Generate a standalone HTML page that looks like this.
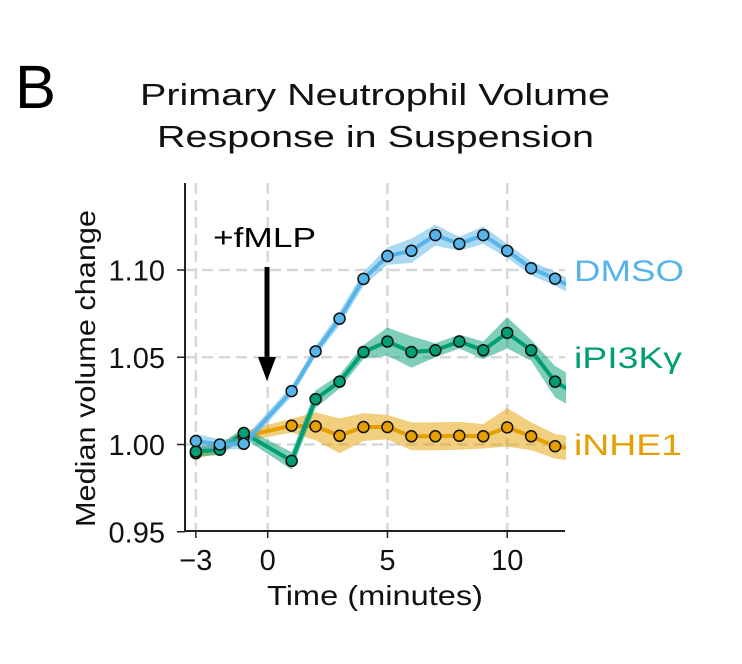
<!DOCTYPE html>
<html><head><meta charset="utf-8"><style>
html,body{margin:0;padding:0;background:#fff;}
svg{display:block;font-family:"Liberation Sans",sans-serif;}
</style></head><body>
<svg id="chart" width="742" height="664" viewBox="0 0 742 664">
<defs><clipPath id="plotclip"><rect x="186" y="180" width="380" height="351"/></clipPath></defs>
<text x="15" y="108" font-size="61" textLength="41" lengthAdjust="spacingAndGlyphs" fill="#000">B</text>
<text x="140" y="105" font-size="31" textLength="470" lengthAdjust="spacingAndGlyphs" fill="#111">Primary Neutrophil Volume</text>
<text x="157" y="147" font-size="31" textLength="437" lengthAdjust="spacingAndGlyphs" fill="#111">Response in Suspension</text>
<g id="grid"></g>
<g id="series" clip-path="url(#plotclip)"></g>
<g id="axes"></g>
<text transform="translate(95,527) rotate(-90)" font-size="28" textLength="317" lengthAdjust="spacingAndGlyphs" fill="#111">Median volume change</text>
<text x="267" y="605" font-size="28" textLength="216" lengthAdjust="spacingAndGlyphs" fill="#111">Time (minutes)</text>
<text x="213" y="247" font-size="28" textLength="103" lengthAdjust="spacingAndGlyphs" fill="#000">+fMLP</text>
<line x1="267" y1="267" x2="267" y2="360" stroke="#000" stroke-width="5"/>
<polygon points="258,357 276,357 267,381" fill="#000"/>
<g id="labels"></g>
</svg>
<script>
const times = [-3,-2,-1,1,2,3,4,5,6,7,8,9,10,11,12,13];
const seriesNames = ["DMSO","iPI3Kγ","iNHE1"];
const dmso = [1.002,1.000,1.0004,1.0306,1.0534,1.0721,1.0949,1.108,1.111,1.120,1.115,1.120,1.111,1.101,1.095,1.088];
const dmsoErr = [0.004,0.003,0.003,0.003,0.003,0.004,0.004,0.005,0.007,0.006,0.004,0.005,0.004,0.004,0.004,0.004];
const pi3k = [0.996,0.997,1.0066,0.9906,1.026,1.036,1.053,1.059,1.053,1.054,1.059,1.054,1.064,1.054,1.036,1.028];
const pi3kErr = [0.003,0.003,0.003,0.005,0.005,0.004,0.004,0.008,0.009,0.004,0.004,0.005,0.009,0.006,0.009,0.009];
const nhe1 = [0.995,0.998,1.0047,1.0108,1.0104,1.005,1.010,1.010,1.0047,1.0047,1.005,1.0047,1.0098,1.0047,0.999,0.997];
const nhe1Err = [0.003,0.003,0.003,0.004,0.008,0.010,0.008,0.007,0.008,0.008,0.008,0.007,0.011,0.008,0.007,0.007];
const yTicks = [0.95,1.00,1.05,1.10];
const yTickLabels = ["0.95","1.00","1.05","1.10"];
const xTicks = [-3,0,5,10];
const xTickLabels = ["\u22123","0","5","10"];
const colors = ["#56b4e9","#009e73","#e69f00"];

const X = t => 267.7 + (t-0)*23.95;
const Y = v => 444.5 - (v-1.0)*1745;
const NS = "http://www.w3.org/2000/svg";
function mk(tag, attrs, parent){const e=document.createElementNS(NS,tag);for(const k in attrs)e.setAttribute(k,attrs[k]);parent.appendChild(e);return e;}
const grid=document.getElementById('grid'), axes=document.getElementById('axes'), ser=document.getElementById('series'), lab=document.getElementById('labels');
const xL=185, xR=565, yT=183, yB=531;
xTicks.forEach((t,i)=>{
  const g=mk('line',{x1:X(t),x2:X(t),y1:yT,y2:yB,stroke:'#d8d8d8','stroke-width':2.5,'stroke-dasharray':'11,6'},grid);
  
  
  const tk=mk('line',{x1:X(t),x2:X(t),y1:yB,y2:yB+7,stroke:'#222','stroke-width':1.5},axes);
  
  
  const tl=mk('text',{x:X(t),y:yB+39,'font-size':29,'text-anchor':'middle',fill:'#111'},axes);
  tl.textContent=xTickLabels[i];
  
  
});
yTicks.forEach((v,i)=>{
  if(v>0.96){
    const g=mk('line',{x1:xL,x2:xR,y1:Y(v),y2:Y(v),stroke:'#d8d8d8','stroke-width':2.5,'stroke-dasharray':'11,6'},grid);
    
    
  }
  const tk=mk('line',{x1:xL-8,x2:xL,y1:Y(v),y2:Y(v),stroke:'#222','stroke-width':1.5},axes);
  
  
  const tl=mk('text',{x:xL-20,y:Y(v)+10.5,'font-size':29,'text-anchor':'end',fill:'#111'},axes);
  tl.textContent=yTickLabels[i];
  
  
});
const ya=mk('line',{x1:xL,x2:xL,y1:yT,y2:yB,stroke:'#222','stroke-width':2},axes);


const xa=mk('line',{x1:xL,x2:xR,y1:yB,y2:yB,stroke:'#222','stroke-width':2},axes);



const all=[[dmso,dmsoErr],[pi3k,pi3kErr],[nhe1,nhe1Err]];
const order=[2,1,0];
order.forEach(si=>{
  const [vals,err]=all[si];
  let up=times.map((t,i)=>X(t)+','+Y(vals[i]+err[i]));
  let dn=times.map((t,i)=>X(t)+','+Y(vals[i]-err[i])).reverse();
  const band=mk('polygon',{points:up.concat(dn).join(' '),fill:colors[si],'fill-opacity':0.5},ser);
  
  
  const ln=mk('polyline',{points:times.map((t,i)=>X(t)+','+Y(vals[i])).join(' '),fill:'none',stroke:colors[si],'stroke-width':4,'stroke-linejoin':'round'},ser);
  
  
});
order.forEach(si=>{
  const vals=all[si][0];
  times.forEach((t,i)=>{
    if(t>12) return;
    const c=mk('circle',{cx:X(t),cy:Y(vals[i]),r:5.5,fill:colors[si],stroke:'#111','stroke-width':1.5},ser);
    
    
  });
});
const labY=[281,368,455];
const labW=[110,108,108];
seriesNames.forEach((n,si)=>{
  const t=mk('text',{x:574,y:labY[si],'font-size':30,fill:colors[si],textLength:labW[si],lengthAdjust:'spacingAndGlyphs'},lab);
  t.textContent=n;
  
  
});
</script>
</body></html>
